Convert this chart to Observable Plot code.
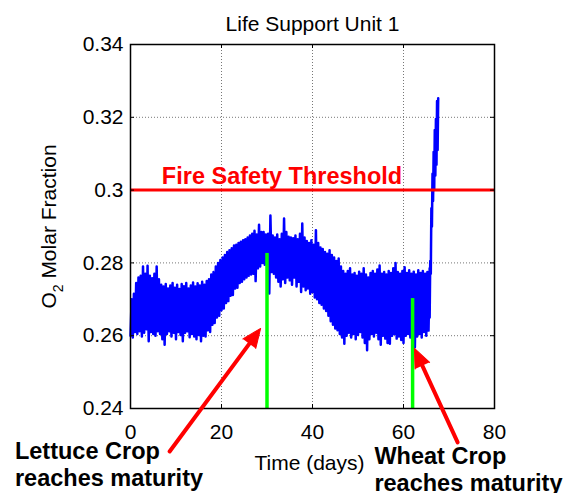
<!DOCTYPE html>
<html><head><meta charset="utf-8">
<script src="https://cdn.jsdelivr.net/npm/d3@7"></script>
<script src="https://cdn.jsdelivr.net/npm/@observablehq/plot@0.6"></script>
<style>html,body{margin:0;padding:0;background:#fff;overflow:hidden}</style>
</head><body><div id="chart"></div>
<script>
// ---- chart data ----
const title = "Life Support Unit 1";
const xLabel = "Time (days)";
const yLabel = "O2 Molar Fraction";
const xTicks = [0, 20, 40, 60, 80];
const xTickLabels = ["0", "20", "40", "60", "80"];
const yTicks = [0.24, 0.26, 0.28, 0.30, 0.32, 0.34];
const yTickLabels = ["0.24", "0.26", "0.28", "0.3", "0.32", "0.34"];

// O2 fraction envelope: sampled every 0.5 day from day 0 (max and min within each sample)
const sampleStep = 0.5;
const o2High = [
  0.2700, 0.2715, 0.2745, 0.2760, 0.2765, 0.2790, 0.2770, 0.2792,
  0.2765, 0.2758, 0.2770, 0.2790, 0.2755, 0.2740, 0.2735, 0.2742,
  0.2730, 0.2738, 0.2745, 0.2732, 0.2740, 0.2728, 0.2742, 0.2736,
  0.2745, 0.2730, 0.2738, 0.2746, 0.2735, 0.2744, 0.2738, 0.2748,
  0.2740, 0.2750, 0.2755, 0.2768, 0.2775, 0.2790, 0.2800, 0.2808,
  0.2815, 0.2822, 0.2830, 0.2835, 0.2840, 0.2848, 0.2850, 0.2855,
  0.2858, 0.2862, 0.2865, 0.2870, 0.2875, 0.2880, 0.2888, 0.2878,
  0.2905, 0.2885, 0.2885, 0.2878, 0.2880, 0.2930, 0.2875, 0.2870,
  0.2878, 0.2865, 0.2880, 0.2922, 0.2885, 0.2872, 0.2870, 0.2868,
  0.2875, 0.2865, 0.2880, 0.2908, 0.2870, 0.2860, 0.2855, 0.2862,
  0.2850, 0.2890, 0.2855, 0.2842, 0.2838, 0.2830, 0.2825, 0.2835,
  0.2822, 0.2815, 0.2805, 0.2812, 0.2790, 0.2778, 0.2770, 0.2778,
  0.2785, 0.2768, 0.2772, 0.2765, 0.2776, 0.2770, 0.2785, 0.2768,
  0.2760, 0.2772, 0.2778, 0.2770, 0.2782, 0.2793, 0.2770, 0.2775,
  0.2768, 0.2778, 0.2772, 0.2785, 0.2800, 0.2775, 0.2770, 0.2778,
  0.2788, 0.2772, 0.2780, 0.2770, 0.2776, 0.2768, 0.2780, 0.2772,
  0.2778, 0.2770, 0.2775, 0.2785
];
const o2Low = [
  0.2600, 0.2595, 0.2610, 0.2605, 0.2612, 0.2598, 0.2608, 0.2618,
  0.2585, 0.2610, 0.2605, 0.2600, 0.2612, 0.2605, 0.2590, 0.2575,
  0.2605, 0.2612, 0.2598, 0.2608, 0.2590, 0.2610, 0.2602, 0.2585,
  0.2608, 0.2612, 0.2596, 0.2605, 0.2598, 0.2590, 0.2602, 0.2585,
  0.2600, 0.2598, 0.2615, 0.2610, 0.2630, 0.2635, 0.2650, 0.2655,
  0.2670, 0.2675, 0.2690, 0.2695, 0.2710, 0.2712, 0.2730, 0.2732,
  0.2745, 0.2748, 0.2755, 0.2760, 0.2765, 0.2768, 0.2770, 0.2750,
  0.2785, 0.2790, 0.2800, 0.2795, 0.2800, 0.2716, 0.2775, 0.2770,
  0.2760, 0.2748, 0.2735, 0.2755, 0.2745, 0.2760, 0.2752, 0.2740,
  0.2760, 0.2735, 0.2748, 0.2720, 0.2735, 0.2725, 0.2730, 0.2715,
  0.2720, 0.2705, 0.2700, 0.2690, 0.2685, 0.2675, 0.2668, 0.2655,
  0.2640, 0.2630, 0.2620, 0.2615, 0.2605, 0.2595, 0.2578, 0.2600,
  0.2608, 0.2595, 0.2605, 0.2590, 0.2602, 0.2610, 0.2595, 0.2580,
  0.2560, 0.2590, 0.2605, 0.2598, 0.2608, 0.2590, 0.2575, 0.2600,
  0.2592, 0.2580, 0.2578, 0.2600, 0.2605, 0.2592, 0.2598, 0.2588,
  0.2580, 0.2600, 0.2605, 0.2595, 0.2588, 0.2568, 0.2598, 0.2605,
  0.2595, 0.2610, 0.2600, 0.2614
];
// final fast rise after day 65.5
const riseDays = [65.75, 66.0, 66.25, 66.5, 66.75, 67.0, 67.25, 67.5];
const riseLow  = [0.2650, 0.2770, 0.2900, 0.2970, 0.3000, 0.3040, 0.3070, 0.3110];
const riseHigh = [0.2805, 0.2950, 0.3045, 0.3105, 0.3165, 0.3195, 0.3245, 0.3252];

const threshold = 0.30;
const thresholdLabel = "Fire Safety Threshold";
const thresholdLabelDay = 33.3;

const maturityDays = [30, 62];
const maturityLevels = [0.2826, 0.2702];

const noteTexts = ["Lettuce Crop\nreaches maturity", "Wheat Crop\nreaches maturity"];
const noteDays = [-25.4, 53.6];
const noteFracs = [0.2188, 0.2172];
const arrowFromDay = [8.6, 71.9];
const arrowFromFrac = [0.2282, 0.2307];
const arrowToDay = [28.6, 62.4];
const arrowToFrac = [0.2620, 0.2565];

// ---- build table ----
const o2 = [];
o2High.forEach((h, i) => {
  const t = i * sampleStep;
  o2.push({day: t, frac: o2Low[i]});
  o2.push({day: t + sampleStep / 2, frac: h});
});
riseDays.forEach((t, i) => {
  o2.push({day: t, frac: riseLow[i]});
  o2.push({day: t + 0.125, frac: riseHigh[i]});
});
const maturity = maturityDays.map((d, i) => ({day: d, level: maturityLevels[i]}));
const notes = noteTexts.map((t, i) => ({text: t, day: noteDays[i], frac: noteFracs[i]}));
const arrows = arrowFromDay.map((d, i) => ({x1: d, y1: arrowFromFrac[i], x2: arrowToDay[i], y2: arrowToFrac[i]}));

const FONT = "'Liberation Sans', Arial, Helvetica, sans-serif";
const RED = "#ff0000";

function baseMarks() {
  return [
    Plot.ruleX(xTicks, {stroke: "#777", strokeWidth: 1, strokeDasharray: "1,2"}),
    Plot.ruleY(yTicks, {stroke: "#777", strokeWidth: 1, strokeDasharray: "1,2"}),
    Plot.line(o2, {x: "day", y: "frac", stroke: "#0000ff", strokeWidth: 2.5}),
    Plot.ruleY([threshold], {stroke: RED, strokeWidth: 3}),
    Plot.ruleX(maturity, {x: "day", y1: yTicks[0], y2: "level", stroke: "#00ff00", strokeWidth: 3.5}),
    Plot.frame({stroke: "black", strokeWidth: 1.5}),
    Plot.ruleX(xTicks, {insetTop: 360, stroke: "black", strokeWidth: 1}),
    Plot.ruleX(xTicks, {insetBottom: 360, stroke: "black", strokeWidth: 1}),
    Plot.ruleY(yTicks, {insetRight: 360, stroke: "black", strokeWidth: 1}),
    Plot.ruleY(yTicks, {insetLeft: 360, stroke: "black", strokeWidth: 1}),
    Plot.text(xTicks, {x: d => d, text: (d, i) => xTickLabels[i], frameAnchor: "bottom", dy: 30, lineAnchor: "bottom", fontSize: 21}),
    Plot.text(yTicks, {y: d => d, text: (d, i) => yTickLabels[i], frameAnchor: "left", dx: -7, textAnchor: "end", lineAnchor: "middle", fontSize: 21}),
    Plot.text([title], {text: d => d, frameAnchor: "top", dy: -14, lineAnchor: "bottom", fontSize: 21}),
    Plot.text([xLabel], {text: d => d, frameAnchor: "bottom", dx: -3, dy: 61, lineAnchor: "bottom", fontSize: 21}),
    Plot.text([yLabel], {text: d => d, frameAnchor: "left", dx: -75, rotate: -90, lineAnchor: "bottom", textAnchor: "middle", fontSize: 21}),
    Plot.text([thresholdLabel], {text: d => d, x: thresholdLabelDay, y: threshold, dy: -6, lineAnchor: "bottom", textAnchor: "middle", fill: RED, fontWeight: "bold", fontSize: 23.5}),
    Plot.text(notes, {x: "day", y: "frac", text: "text", textAnchor: "start", lineAnchor: "bottom", lineHeight: 1.15, fontWeight: "bold", fontSize: 23.5}),
    Plot.arrow(arrows, {x1: "x1", y1: "y1", x2: "x2", y2: "y2", stroke: RED, strokeWidth: 4, headLength: 0, insetEnd: 12})
  ];
}

function build(extra) {
  return Plot.plot({
    width: 570, height: 493,
    marginLeft: 130, marginRight: 76, marginTop: 44, marginBottom: 85,
    x: {domain: [xTicks[0], xTicks[xTicks.length - 1]], axis: null},
    y: {domain: [yTicks[0], yTicks[yTicks.length - 1]], axis: null},
    style: {fontFamily: FONT, fontSize: "21px", background: "white", color: "black", overflow: "visible"},
    marks: [...baseMarks(), ...extra]
  });
}

const first = build([]);
const sx = first.scale("x"), sy = first.scale("y");
const heads = arrows.map(a => {
  const px1 = sx.apply(a.x1), py1 = sy.apply(a.y1), px2 = sx.apply(a.x2), py2 = sy.apply(a.y2);
  return {x: a.x2, y: a.y2, angle: Math.atan2(px2 - px1, -(py2 - py1)) * 180 / Math.PI};
});
const svg = build([
  Plot.vector(heads, {x: "x", y: "y", rotate: "angle", length: 19, r: 8, shape: "spike", anchor: "end", fill: RED, stroke: RED, strokeWidth: 1})
]);

// subscript for O2
d3.select(svg).selectAll("text").filter(function () { return this.textContent === yLabel; }).each(function () {
  const t = d3.select(this);
  t.text(null);
  t.append("tspan").text("O");
  t.append("tspan").attr("font-size", "14px").attr("dy", "7").text("2");
  t.append("tspan").attr("dy", "-7").text(" Molar Fraction");
});
document.getElementById("chart").appendChild(svg);
</script>
</body></html>
